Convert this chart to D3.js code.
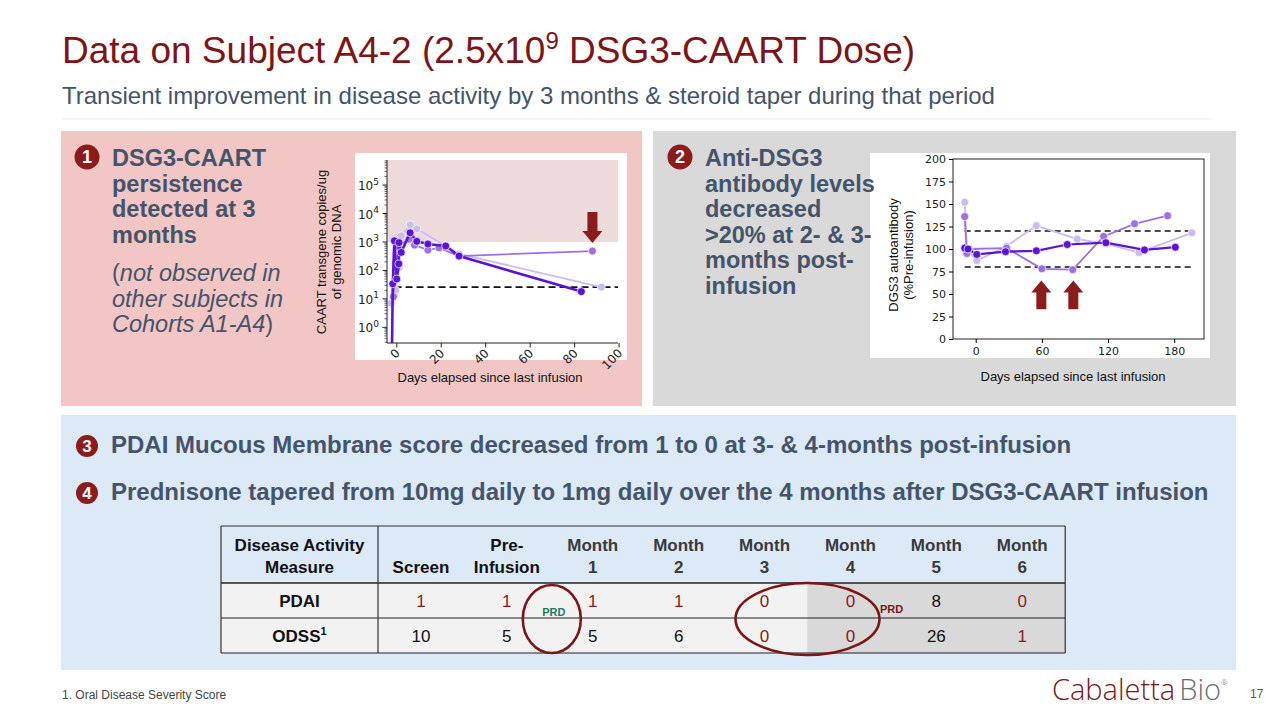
<!DOCTYPE html>
<html>
<head>
<meta charset="utf-8">
<script src="https://cdn.jsdelivr.net/npm/d3@7"></script>
<style>
  body { margin: 0; background: #fff; }
  svg { display: block; font-family: "Liberation Sans", Arial, sans-serif; }
</style>
</head>
<body>
<svg id="slide" width="1280" height="720"></svg>
<script>
// CAART persistence, copies/ug genomic DNA (log scale) - three replicate series
const caartDarkDays   = [-2.2, -1.8, -1.1, 0, 0.9, 1, 2, 6, 9, 14, 22, 28, 83]
const caartDarkValues = [0.1, 34, 1100, 50, 170, 950, 430, 2100, 1050, 850, 720, 320, 18]
const caartMidDays    = [-1.5, -0.5, 0, 0.5, 5.5, 8, 14, 19, 28, 88]
const caartMidValues  = [12, 180, 120, 700, 1250, 780, 520, 620, 320, 480]
const caartLightDays   = [-2.6, -1, -0.5, 1, 2, 6, 9, 22, 28, 92]
const caartLightValues = [7, 14, 20, 130, 1650, 4000, 2900, 720, 380, 26]
const caartLimit = 26
const caartShadeFrom = 1000
const caartXTicks = [0, 20, 40, 60, 80, 100]
const caartYTicks = [0, 1, 2, 3, 4, 5]          // exponents of 10
const caartArrowDays = [88]

// anti-DSG3 antibody, % of pre-infusion
const abDarkDays   = [-10, -7, 1, 27, 55, 83, 118, 153, 181]
const abDarkValues = [101, 100, 94, 97, 98, 105, 107, 99, 102]
const abMidDays    = [-10, -8, -6, 28, 60, 88, 116, 144, 174]
const abMidValues  = [136, 95, 100, 101, 78, 77, 114, 128, 137]
const abLightDays   = [-10, -8, 1, 28, 55, 92, 118, 148, 196]
const abLightValues = [152, 100, 87, 103, 126, 111, 106, 96, 118]
const abBands = [80, 120]
const abBandDays = [-10, 195]
const abXTicks = [0, 60, 120, 180]
const abYTicks = [0, 25, 50, 75, 100, 125, 150, 175, 200]
const abArrowDays = [59.5, 88.5]

// disease activity table
const tableColumns = ['Screen', 'Pre-|Infusion', 'Month|1', 'Month|2', 'Month|3', 'Month|4', 'Month|5', 'Month|6']
const pdaiValues = ['1', '1', '1', '1', '0', '0', '8', '0']
const odssValues = ['10', '5', '5', '6', '0', '0', '26', '1']

const RED = '#7d1518'
const SLATE = '#44546a'
const C_DARK = '#5a14d6', C_MID = '#9b70e2', C_LIGHT = '#cbbbef'

const svg = d3.select('#slide')

// ---------- header ----------
const title = svg.append('text')
  .attr('x', 62).attr('y', 63)
  .style('font-size', '37px').style('fill', RED)
title.append('tspan').text('Data on Subject A4-2 (2.5x10')
title.append('tspan').text('9').attr('dy', -14).style('font-size', '24px')
title.append('tspan').text(' DSG3-CAART Dose)').attr('dy', 14)

svg.append('text')
  .attr('x', 62).attr('y', 104)
  .style('font-size', '24px').style('fill', SLATE)
  .text('Transient improvement in disease activity by 3 months & steroid taper during that period')

svg.append('line')
  .attr('x1', 62).attr('x2', 1212).attr('y1', 119).attr('y2', 119)
  .style('stroke', '#ebebeb').style('stroke-width', 1)

// ---------- panels ----------
svg.append('rect').attr('x', 61).attr('y', 131).attr('width', 581).attr('height', 275).style('fill', '#f2c6c4')
svg.append('rect').attr('x', 653).attr('y', 131).attr('width', 583).attr('height', 275).style('fill', '#d9d9d9')
svg.append('rect').attr('x', 61).attr('y', 415).attr('width', 1175).attr('height', 255).style('fill', '#dce9f7')

// ---------- helpers ----------
const seriesLine = (g, xs, ys, days, values, color, width) => {
  const pts = days.map((d, i) => [d, values[i]])
  g.append('path')
    .datum(pts)
    .attr('d', d3.line().x(d => xs(d[0])).y(d => ys(d[1])))
    .style('fill', 'none').style('stroke', color).style('stroke-width', width)
  g.selectAll(null)
    .data(pts)
    .enter()
    .append('circle')
    .attr('cx', d => xs(d[0])).attr('cy', d => ys(d[1]))
    .attr('r', 4)
    .style('fill', color).style('stroke', '#fff').style('stroke-width', 0.7)
}

const blockArrow = (g, x, yTail, yTip) => {
  const dir = yTip > yTail ? 1 : -1
  const head = 12 * dir
  g.append('path')
    .attr('d', `M${x - 5},${yTail} L${x + 5},${yTail} L${x + 5},${yTip - head} L${x + 10},${yTip - head}
                L${x},${yTip} L${x - 10},${yTip - head} L${x - 5},${yTip - head} Z`)
    .style('fill', '#8b1c1c')
}

// ---------- chart 1: CAART persistence ----------
svg.append('rect').attr('x', 355).attr('y', 153).attr('width', 272).attr('height', 207).style('fill', '#fff')

const x1 = d3.scaleLinear().domain([-4.4, 99.5]).range([387, 618])
const y1 = d3.scaleLog().domain([Math.pow(10, -0.55), Math.pow(10, 5.88)]).range([343, 160])

svg.append('clipPath').attr('id', 'clip1')
  .append('rect').attr('x', 387).attr('y', 160).attr('width', 231).attr('height', 183)

const g1 = svg.append('g').attr('clip-path', 'url(#clip1)')

g1.append('rect')
  .attr('x', 387).attr('width', 231)
  .attr('y', 160).attr('height', y1(caartShadeFrom) - 160)
  .style('fill', '#eddbdb')

g1.append('line')
  .attr('x1', x1(-1)).attr('x2', 618)
  .attr('y1', y1(caartLimit)).attr('y2', y1(caartLimit))
  .style('stroke', '#111').style('stroke-width', 1.6).style('stroke-dasharray', '7,4')

seriesLine(g1, x1, y1, caartLightDays, caartLightValues, C_LIGHT, 1.8)
seriesLine(g1, x1, y1, caartMidDays, caartMidValues, C_MID, 1.8)
seriesLine(g1, x1, y1, caartDarkDays, caartDarkValues, C_DARK, 2.6)

caartArrowDays.forEach(d => blockArrow(svg, x1(d), y1(Math.pow(10, 4.05)), y1(Math.pow(10, 2.96))))

// axes
const ax1y = svg.append('g').attr('transform', 'translate(387,0)')
ax1y.append('line').attr('y1', 160).attr('y2', 343).style('stroke', '#222').style('stroke-width', 1)
const minor = []
d3.range(-1, 6).forEach(e => d3.range(2, 10).forEach(m => {
  const v = m * Math.pow(10, e)
  if (v > y1.domain()[0] && v < y1.domain()[1]) minor.push(v)
}))
ax1y.selectAll('.minor').data(minor).enter().append('line')
  .attr('x1', -2.5).attr('x2', 0).attr('y1', d => y1(d)).attr('y2', d => y1(d))
  .style('stroke', '#222').style('stroke-width', 0.7)
ax1y.selectAll('.major').data(caartYTicks).enter().append('line')
  .attr('x1', -4.5).attr('x2', 0).attr('y1', d => y1(Math.pow(10, d))).attr('y2', d => y1(Math.pow(10, d)))
  .style('stroke', '#222').style('stroke-width', 1)
const yl = ax1y.selectAll('.lab').data(caartYTicks).enter().append('text')
  .attr('x', -8).attr('y', d => y1(Math.pow(10, d)) + 5)
  .attr('text-anchor', 'end')
  .style('font-family', '"DejaVu Sans"').style('font-size', '12px').style('fill', '#222')
yl.append('tspan').text('10')
yl.append('tspan').text(d => d).attr('dy', -5.5).style('font-size', '9px')

const ax1x = svg.append('g')
ax1x.append('line').attr('x1', 387).attr('x2', 618).attr('y1', 343).attr('y2', 343).style('stroke', '#222')
ax1x.selectAll('.tick').data(caartXTicks).enter().append('line')
  .attr('x1', d => x1(d)).attr('x2', d => x1(d)).attr('y1', 343).attr('y2', 347.5)
  .style('stroke', '#222')
ax1x.selectAll('.lab').data(caartXTicks).enter().append('text')
  .attr('transform', d => `translate(${x1(d) + 1},${351}) rotate(-45)`)
  .attr('text-anchor', 'end').attr('dy', '0.35em')
  .style('font-family', '"DejaVu Sans"').style('font-size', '12px').style('fill', '#222')
  .text(d => d)

svg.append('text')
  .attr('transform', 'translate(326,252) rotate(-90)')
  .attr('text-anchor', 'middle')
  .style('font-size', '13px').style('fill', '#111')
  .selectAll('tspan')
  .data(['CAART transgene copies/ug', 'of genomic DNA'])
  .enter().append('tspan')
  .attr('x', 0).attr('dy', (d, i) => i === 0 ? 0 : 15)
  .text(d => d)

svg.append('text').attr('x', 490).attr('y', 382).attr('text-anchor', 'middle')
  .style('font-size', '13px').style('fill', '#111')
  .text('Days elapsed since last infusion')

// ---------- chart 2: anti-DSG3 antibody ----------
svg.append('rect').attr('x', 870).attr('y', 153).attr('width', 340).attr('height', 205).style('fill', '#fff')

const x2 = d3.scaleLinear().domain([-20.6, 207]).range([953, 1204])
const y2 = d3.scaleLinear().domain([0, 200]).range([339, 159])

const g2 = svg.append('g')
abBands.forEach(b => {
  g2.append('line')
    .attr('x1', x2(abBandDays[0])).attr('x2', x2(abBandDays[1]))
    .attr('y1', y2(b)).attr('y2', y2(b))
    .style('stroke', '#111').style('stroke-width', 1.6).style('stroke-dasharray', '6,4')
})

seriesLine(g2, x2, y2, abLightDays, abLightValues, C_LIGHT, 1.8)
seriesLine(g2, x2, y2, abMidDays, abMidValues, C_MID, 1.8)
seriesLine(g2, x2, y2, abDarkDays, abDarkValues, C_DARK, 2.2)

abArrowDays.forEach(d => blockArrow(svg, x2(d), y2(33), y2(65)))

g2.append('rect').attr('x', 953).attr('y', 159).attr('width', 251).attr('height', 180)
  .style('fill', 'none').style('stroke', '#222').style('stroke-width', 1)

g2.append('g').attr('transform', 'translate(953,0)')
  .call(d3.axisLeft(y2).tickValues(abYTicks).tickSize(4).tickPadding(3))
  .call(a => a.select('.domain').remove())
  .call(a => a.selectAll('text').style('font-family', '"DejaVu Sans"').style('font-size', '11px').style('fill', '#222'))

g2.append('g').attr('transform', 'translate(0,339)')
  .call(d3.axisBottom(x2).tickValues(abXTicks).tickSize(4).tickPadding(4))
  .call(a => a.select('.domain').remove())
  .call(a => a.selectAll('text').style('font-family', '"DejaVu Sans"').style('font-size', '11px').style('fill', '#222'))

svg.append('text')
  .attr('transform', 'translate(898,255) rotate(-90)')
  .attr('text-anchor', 'middle')
  .style('font-size', '13px').style('fill', '#111')
  .selectAll('tspan')
  .data(['DGS3 autoantibody', '(%Pre-infusion)'])
  .enter().append('tspan')
  .attr('x', 0).attr('dy', (d, i) => i === 0 ? 0 : 15)
  .text(d => d)

svg.append('text').attr('x', 1073).attr('y', 381).attr('text-anchor', 'middle')
  .style('font-size', '13px').style('fill', '#111')
  .text('Days elapsed since last infusion')

// ---------- panel texts (on top of the chart boxes) ----------
const badge = (cx, cy, r, label, size) => {
  svg.append('circle').attr('cx', cx).attr('cy', cy).attr('r', r).style('fill', '#8b1c1c')
  svg.append('text').attr('x', cx).attr('y', cy + size * 0.36)
    .attr('text-anchor', 'middle')
    .style('font-size', size + 'px').style('font-weight', 'bold').style('fill', '#fff')
    .text(label)
}

badge(87, 157, 12.5, '1', 18)
badge(680, 157, 12.5, '2', 18)
badge(87, 446, 11, '3', 17)
badge(87, 493, 11, '4', 17)

const boldLines = (x, y0, lines) => {
  svg.append('g').selectAll('text')
    .data(lines)
    .enter()
    .append('text')
    .attr('x', x).attr('y', (d, i) => y0 + i * 25.6)
    .style('font-size', '23.5px').style('font-weight', 'bold').style('fill', SLATE)
    .text(d => d)
}

boldLines(112, 166, ['DSG3-CAART', 'persistence', 'detected at 3', 'months'])
boldLines(705, 166, ['Anti-DSG3', 'antibody levels', 'decreased', '>20% at 2- & 3-', 'months post-', 'infusion'])

const italicLines = [['(', 'not observed in', ''], ['', 'other subjects in', ''], ['', 'Cohorts A1-A4', ')']]
italicLines.forEach((parts, i) => {
  const t = svg.append('text').attr('x', 112).attr('y', 281 + i * 25.6)
    .style('font-size', '23.5px').style('fill', SLATE)
  t.append('tspan').text(parts[0])
  t.append('tspan').text(parts[1]).style('font-style', 'italic')
  t.append('tspan').text(parts[2])
})

svg.append('text').attr('x', 111).attr('y', 453)
  .style('font-size', '24px').style('font-weight', 'bold').style('fill', SLATE)
  .text('PDAI Mucous Membrane score decreased from 1 to 0 at 3- & 4-months post-infusion')
svg.append('text').attr('x', 111).attr('y', 500)
  .style('font-size', '24px').style('font-weight', 'bold').style('fill', SLATE)
  .text('Prednisone tapered from 10mg daily to 1mg daily over the 4 months after DSG3-CAART infusion')

// ---------- table ----------
const tX = 221, firstW = 157, colW = 85.9
const tY = 526, headH = 57, rowH = 35
const tW = firstW + colW * tableColumns.length
const colX = i => tX + firstW + colW * i
const redPdai = [true, true, true, true, true, true, false, true]
const redOdss = [false, false, false, false, true, true, false, true]

const tg = svg.append('g')
const rows = [
  { label: 'PDAI', values: pdaiValues, red: redPdai },
  { label: 'ODSS', sup: '1', values: odssValues, red: redOdss }
]

rows.forEach((row, r) => {
  const y = tY + headH + r * rowH
  tg.append('rect').attr('x', tX).attr('y', y).attr('width', colX(5) - tX).attr('height', rowH).style('fill', '#f2f2f2')
  tg.append('rect').attr('x', colX(5)).attr('y', y).attr('width', tX + tW - colX(5)).attr('height', rowH).style('fill', '#d9d9d9')
  const lab = tg.append('text').attr('x', tX + firstW / 2).attr('y', y + 24)
    .attr('text-anchor', 'middle')
    .style('font-size', '17px').style('font-weight', 'bold').style('fill', '#111')
  lab.append('tspan').text(row.label)
  if (row.sup) lab.append('tspan').text(row.sup).attr('dy', -7).style('font-size', '11px')
  tg.selectAll(null).data(row.values).enter().append('text')
    .attr('x', (d, i) => colX(i) + colW / 2).attr('y', y + 24)
    .attr('text-anchor', 'middle')
    .style('font-size', '17px')
    .style('fill', (d, i) => row.red[i] ? '#8b1c1c' : '#111')
    .text(d => d)
})

tg.selectAll('.head').data(tableColumns).enter().append('text')
  .attr('x', (d, i) => colX(i) + colW / 2)
  .attr('text-anchor', 'middle')
  .style('font-size', '17px').style('font-weight', 'bold')
  .style('fill', d => d.startsWith('Month') ? '#3a3a3a' : '#111')
  .each(function (d) {
    const parts = d.split('|')
    const sel = d3.select(this)
    if (parts.length === 1) {
      sel.append('tspan').attr('x', sel.attr('x')).attr('y', tY + 47).text(parts[0])
    } else {
      sel.append('tspan').attr('x', sel.attr('x')).attr('y', tY + 25).text(parts[0])
      sel.append('tspan').attr('x', sel.attr('x')).attr('y', tY + 47).text(parts[1])
    }
  })
const h1 = tg.append('text').attr('x', tX + firstW / 2).attr('text-anchor', 'middle')
  .style('font-size', '17px').style('font-weight', 'bold').style('fill', '#111')
h1.append('tspan').attr('x', tX + firstW / 2).attr('y', tY + 25).text('Disease Activity')
h1.append('tspan').attr('x', tX + firstW / 2).attr('y', tY + 47).text('Measure')

// grid lines
const hy = [tY, tY + headH, tY + headH + rowH, tY + headH + 2 * rowH]
hy.forEach((y, i) => {
  tg.append('line').attr('x1', tX).attr('x2', tX + tW).attr('y1', y).attr('y2', y)
    .style('stroke', i === 0 ? '#333' : '#222').style('stroke-width', i === 1 ? 1.6 : 1.2)
})
;[tX, tX + firstW, tX + tW].forEach(x => {
  tg.append('line').attr('x1', x).attr('x2', x).attr('y1', tY).attr('y2', hy[3])
    .style('stroke', '#333').style('stroke-width', 1.2)
})

// PRD annotations
tg.append('ellipse').attr('cx', colX(2) + 2).attr('cy', 619).attr('rx', 29).attr('ry', 34)
  .style('fill', 'none').style('stroke', RED).style('stroke-width', 2.6)
tg.append('text').attr('x', colX(2) + 4).attr('y', 616).attr('text-anchor', 'middle')
  .style('font-size', '11px').style('font-weight', 'bold').style('fill', '#1f7a5e')
  .text('PRD')
tg.append('ellipse').attr('cx', colX(5)).attr('cy', 619).attr('rx', 72).attr('ry', 36)
  .style('fill', 'none').style('stroke', RED).style('stroke-width', 2.6)
tg.append('text').attr('x', colX(5) + 84).attr('y', 613).attr('text-anchor', 'middle')
  .style('font-size', '11px').style('font-weight', 'bold').style('fill', RED)
  .text('PRD')

// ---------- footer ----------
svg.append('text').attr('x', 62).attr('y', 699)
  .style('font-size', '12px').style('fill', '#444')
  .text('1. Oral Disease Severity Score')

const logo = svg.append('text').attr('x', 1052).attr('y', 700)
  .style('font-family', '"Open Sans", sans-serif').style('font-size', '29px').style('font-weight', 300)
logo.append('tspan').text('Cabaletta').style('fill', RED)
logo.append('tspan').text('Bio').attr('dx', 4).style('fill', '#6d6e71')
logo.append('tspan').text('®').attr('dy', -15).style('font-size', '8px').style('fill', '#6d6e71')

svg.append('text').attr('x', 1250).attr('y', 698)
  .style('font-size', '12px').style('fill', '#555')
  .text('17')
</script>
</body>
</html>
